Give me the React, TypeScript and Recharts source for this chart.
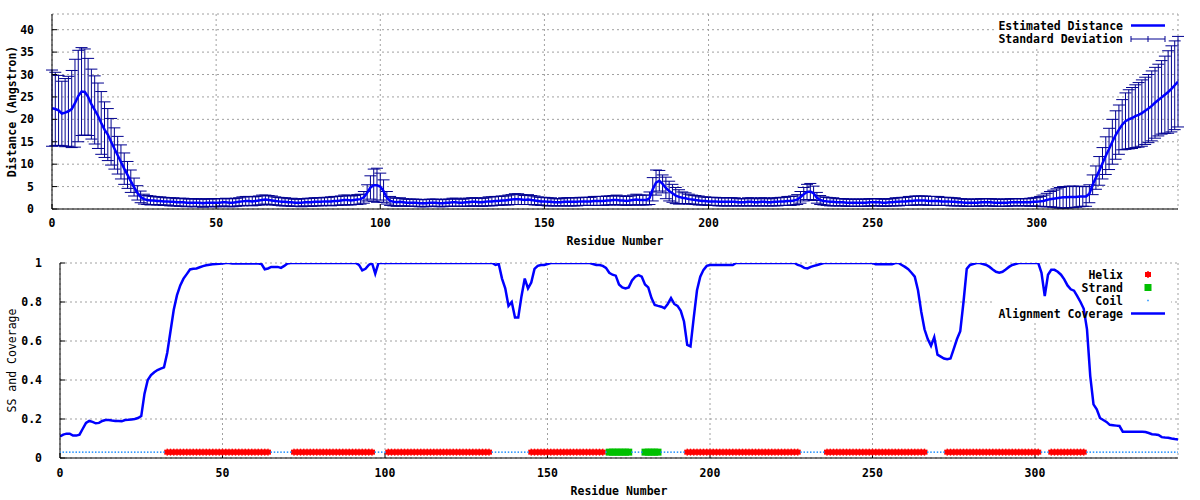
import React from "react";
import {
  ComposedChart,
  Line,
  Scatter,
  XAxis,
  YAxis,
  CartesianGrid,
  ErrorBar,
  Legend,
  Customized,
} from "recharts";

// estimated distance per residue (0..343), Angstrom
const distMean = [
  22.5, 22.3, 22.0, 21.3, 21.5, 21.8, 22.3, 23.6, 25.2, 26.2,
  26.1, 25.0, 23.4, 22.1, 20.8, 19.2, 17.7, 16.6, 15.0, 13.5,
  12.0, 10.5, 9.0, 7.6, 6.2, 4.9, 3.6, 2.7, 2.2, 2.0,
  1.9, 1.9, 1.8, 1.8, 1.7, 1.7, 1.6, 1.6, 1.5, 1.5,
  1.5, 1.4, 1.4, 1.4, 1.4, 1.4, 1.3, 1.4, 1.4, 1.4,
  1.4, 1.4, 1.5, 1.5, 1.4, 1.4, 1.5, 1.6, 1.7, 1.8,
  1.8, 1.7, 1.8, 1.9, 2.0, 2.1, 2.0, 1.9, 1.8, 1.7,
  1.6, 1.6, 1.5, 1.5, 1.4, 1.4, 1.4, 1.5, 1.5, 1.5,
  1.6, 1.6, 1.6, 1.7, 1.7, 1.7, 1.8, 1.8, 1.9, 2.0,
  2.0, 1.9, 2.0, 2.1, 2.2, 2.6, 3.6, 4.8, 5.3, 5.3,
  5.0, 4.0, 2.5, 1.8, 1.6, 1.5, 1.6, 1.5, 1.4, 1.4,
  1.4, 1.4, 1.3, 1.3, 1.3, 1.4, 1.4, 1.4, 1.3, 1.3,
  1.4, 1.4, 1.5, 1.5, 1.4, 1.4, 1.5, 1.5, 1.6, 1.6,
  1.5, 1.5, 1.6, 1.7, 1.7, 1.8, 1.8, 1.9, 1.9, 2.0,
  2.1, 2.2, 2.2, 2.1, 2.0, 2.1, 2.0, 1.9, 1.8, 1.7,
  1.7, 1.6, 1.6, 1.5, 1.5, 1.5, 1.6, 1.6, 1.6, 1.6,
  1.6, 1.7, 1.7, 1.7, 1.7, 1.8, 1.8, 1.8, 1.8, 1.9,
  1.9, 2.0, 2.0, 1.9, 1.9, 1.8, 1.9, 2.0, 2.1, 2.0,
  2.0, 2.0, 2.4, 4.4, 5.9, 6.3, 5.6, 4.7, 4.0, 3.5,
  3.0, 2.7, 2.5, 2.4, 2.2, 2.1, 2.0, 1.9, 1.8, 1.8,
  1.7, 1.7, 1.7, 1.6, 1.6, 1.6, 1.6, 1.6, 1.6, 1.5,
  1.5, 1.5, 1.6, 1.6, 1.5, 1.5, 1.6, 1.6, 1.5, 1.5,
  1.6, 1.6, 1.7, 1.7, 1.8, 1.8, 1.9, 2.1, 2.6, 3.3,
  3.8, 3.9, 3.5, 2.5, 2.0, 1.8, 1.7, 1.6, 1.6, 1.5,
  1.5, 1.5, 1.4, 1.4, 1.4, 1.4, 1.4, 1.4, 1.4, 1.5,
  1.5, 1.5, 1.5, 1.4, 1.4, 1.5, 1.5, 1.6, 1.6, 1.7,
  1.7, 1.8, 1.8, 1.9, 1.9, 1.9, 1.9, 1.8, 1.8, 1.8,
  1.8, 1.7, 1.7, 1.7, 1.6, 1.6, 1.5, 1.5, 1.4, 1.4,
  1.4, 1.4, 1.4, 1.5, 1.5, 1.5, 1.5, 1.4, 1.4, 1.4,
  1.4, 1.4, 1.5, 1.5, 1.5, 1.5, 1.5, 1.5, 1.5, 1.6,
  1.6, 1.7, 1.8, 2.0, 2.2, 2.3, 2.4, 2.5, 2.6, 2.6,
  2.7, 2.7, 2.7, 2.8, 2.8, 2.8, 3.4, 5.4, 7.0, 8.5,
  10.2, 11.9, 13.4, 15.0, 16.5, 17.7, 18.8, 19.6, 20.0, 20.3,
  20.7, 21.0, 21.4, 21.9, 22.4, 23.0, 23.7, 24.3, 24.9, 25.5,
  26.1, 26.8, 27.6, 28.4,
];

// standard deviation per residue (0..343)
const distSd = [
  8.5, 8.2, 7.8, 7.2, 7.6, 7.8, 8.6, 9.8, 10.2, 9.8,
  9.6, 8.6, 7.8, 7.6, 7.3, 7.0, 6.2, 5.8, 5.2, 4.6,
  4.2, 3.8, 3.5, 3.0, 2.5, 2.0, 1.6, 1.3, 1.1, 1.0,
  1.0, 0.9, 0.9, 0.9, 0.9, 0.8, 0.9, 0.9, 0.8, 0.9,
  0.9, 0.9, 0.8, 0.9, 0.9, 0.8, 0.9, 0.9, 0.8, 0.9,
  0.9, 0.9, 0.8, 0.9, 0.9, 0.9, 0.9, 0.9, 1.0, 1.0,
  1.0, 1.0, 1.0, 1.0, 1.1, 1.0, 1.0, 1.0, 0.9, 0.9,
  0.9, 0.9, 0.8, 0.9, 0.8, 0.8, 0.9, 0.8, 0.9, 0.9,
  0.9, 0.9, 0.9, 0.9, 0.9, 1.0, 1.0, 1.0, 1.0, 1.1,
  1.1, 1.0, 1.0, 1.1, 1.1, 1.3, 1.8, 2.6, 3.6, 3.8,
  3.0, 2.5, 1.4, 1.0, 0.9, 0.9, 0.9, 0.8, 0.8, 0.8,
  0.8, 0.8, 0.8, 0.8, 0.8, 0.8, 0.8, 0.8, 0.8, 0.8,
  0.8, 0.8, 0.9, 0.9, 0.8, 0.8, 0.9, 0.9, 0.9, 0.9,
  0.9, 0.9, 0.9, 1.0, 1.0, 1.0, 1.0, 1.0, 1.0, 1.1,
  1.1, 1.2, 1.2, 1.1, 1.0, 1.1, 1.0, 1.0, 0.9, 0.9,
  0.9, 0.9, 0.9, 0.8, 0.8, 0.8, 0.9, 0.9, 0.9, 0.9,
  0.9, 0.9, 0.9, 0.9, 0.9, 1.0, 1.0, 1.0, 1.0, 1.0,
  1.0, 1.0, 1.1, 1.0, 1.0, 1.0, 1.0, 1.1, 1.2, 1.1,
  1.1, 1.1, 1.4, 2.6, 2.8, 2.3, 2.0, 2.4, 2.2, 2.0,
  1.8, 1.6, 1.3, 1.2, 1.1, 1.0, 1.0, 1.0, 0.9, 0.9,
  0.9, 0.9, 0.9, 0.9, 0.9, 0.9, 0.9, 0.9, 0.9, 0.8,
  0.8, 0.8, 0.9, 0.9, 0.8, 0.8, 0.9, 0.9, 0.8, 0.8,
  0.9, 0.9, 0.9, 0.9, 1.0, 1.0, 1.0, 1.1, 1.3, 1.5,
  1.7, 1.8, 1.6, 1.2, 1.0, 0.9, 0.9, 0.9, 0.9, 0.8,
  0.8, 0.8, 0.8, 0.8, 0.8, 0.8, 0.8, 0.8, 0.8, 0.8,
  0.8, 0.8, 0.8, 0.8, 0.8, 0.8, 0.8, 0.9, 0.9, 0.9,
  0.9, 1.0, 1.0, 1.0, 1.0, 1.0, 1.0, 1.0, 1.0, 1.0,
  1.0, 0.9, 0.9, 0.9, 0.9, 0.9, 0.8, 0.8, 0.8, 0.8,
  0.8, 0.8, 0.8, 0.8, 0.8, 0.8, 0.8, 0.8, 0.8, 0.8,
  0.8, 0.8, 0.8, 0.8, 0.8, 0.8, 0.8, 0.8, 0.9, 0.9,
  1.0, 1.1, 1.3, 1.5, 1.7, 1.9, 2.1, 2.3, 2.4, 2.4,
  2.4, 2.4, 2.3, 2.3, 2.2, 2.2, 2.0, 2.2, 2.6, 3.2,
  3.5, 4.2, 4.6, 5.0, 5.4, 5.5, 5.6, 6.3, 6.6, 6.8,
  7.0, 7.2, 7.4, 7.5, 7.6, 7.8, 7.9, 8.0, 8.2, 8.6,
  9.2, 9.6, 9.9, 10.1,
];

// alignment coverage per residue (0..344)
const coverage = [
  0.11, 0.12, 0.125, 0.125, 0.115, 0.115, 0.12, 0.15, 0.18, 0.19,
  0.185, 0.178, 0.18, 0.19, 0.195, 0.195, 0.192, 0.19, 0.19, 0.188,
  0.195, 0.196, 0.198, 0.2, 0.205, 0.215, 0.33, 0.4, 0.425, 0.44,
  0.451, 0.458, 0.465, 0.54, 0.65, 0.76, 0.835, 0.885, 0.92, 0.943,
  0.967, 0.97, 0.972, 0.978, 0.984, 0.988, 0.991, 0.993, 0.995, 0.996,
  0.997, 1, 1, 0.998, 0.997, 0.997, 0.997, 0.997, 0.997, 0.997,
  0.997, 0.997, 0.995, 0.968, 0.972, 0.98, 0.98, 0.98, 0.975, 0.985,
  0.998, 1, 1, 1, 1, 1, 1, 1, 1, 1,
  1, 1, 1, 1, 1, 1, 1, 1, 1, 1,
  1, 1, 0.99, 0.962, 0.97, 0.99, 1, 0.945, 1, 1,
  1, 1, 1, 1, 1, 1, 1, 1, 1, 1,
  1, 1, 1, 1, 1, 1, 1, 1, 1, 1,
  1, 1, 1, 1, 1, 1, 1, 1, 1, 1,
  1, 1, 1, 1, 0.99, 0.995, 0.92, 0.87, 0.78, 0.8,
  0.72, 0.72, 0.83, 0.92, 0.87, 0.9, 0.97, 0.985, 0.99, 0.99,
  0.995, 1, 1, 1, 1, 1, 1, 1, 1, 1,
  1, 1, 1, 1, 0.995, 0.99, 0.99, 0.985, 0.975, 0.95,
  0.94, 0.935, 0.89, 0.875, 0.87, 0.875, 0.91, 0.93, 0.938, 0.93,
  0.89, 0.875, 0.82, 0.785, 0.78, 0.776, 0.768, 0.79, 0.82, 0.79,
  0.78, 0.755, 0.7, 0.58, 0.572, 0.72, 0.86, 0.93, 0.965, 0.985,
  0.99, 0.99, 0.99, 0.99, 0.99, 0.99, 0.99, 0.99, 1, 1,
  1, 1, 1, 1, 1, 1, 1, 1, 1, 1,
  1, 1, 1, 1, 1, 1, 1, 0.99, 0.985, 0.975,
  0.972, 0.98, 0.985, 0.99, 0.995, 1, 1, 1, 1, 1,
  1, 1, 1, 1, 1, 1, 1, 1, 1, 1,
  1, 0.993, 0.993, 0.993, 0.993, 0.993, 0.993, 1, 1, 0.99,
  0.98, 0.968, 0.95, 0.93, 0.86, 0.75, 0.66, 0.61, 0.575, 0.62,
  0.53, 0.52, 0.51, 0.506, 0.51, 0.56, 0.61, 0.65, 0.8, 0.97,
  0.99, 0.995, 1, 1, 0.995, 0.99, 0.98, 0.967, 0.955, 0.95,
  0.955, 0.967, 0.98, 0.99, 0.995, 1, 1, 1, 1, 1,
  1, 1, 0.95, 0.83, 0.94, 0.965, 0.965, 0.955, 0.94, 0.916,
  0.885, 0.865, 0.858, 0.83, 0.8, 0.765, 0.66, 0.42, 0.275, 0.25,
  0.205, 0.195, 0.185, 0.17, 0.168, 0.166, 0.164, 0.135, 0.135, 0.135,
  0.135, 0.135, 0.135, 0.135, 0.133, 0.128, 0.122, 0.12, 0.118, 0.107,
  0.105, 0.104, 0.1, 0.097, 0.095,
];

// secondary structure, residue ranges (inclusive)
const helixSegments = [
  [33, 64], [72, 96], [101, 132], [145, 167],
  [193, 227], [236, 266], [273, 301], [305, 315],
];
const strandSegments = [[169, 175], [180, 184]];
const ssLevel = 0.03;

const xTicks = [0, 50, 100, 150, 200, 250, 300];
const distTicks = [0, 5, 10, 15, 20, 25, 30, 35, 40];
const covTicks = [0, 0.2, 0.4, 0.6, 0.8, 1];

const distData = distMean.map((mean, r) => ({ r, mean, sd: distSd[r] }));
const covData = coverage.map((cov, r) => ({ r, cov }));

const inSegs = (r: number, segs: number[][]) => segs.some(([a, b]) => r >= a && r <= b);
const helixPts = covData.filter((d) => inSegs(d.r, helixSegments)).map((d) => ({ r: d.r, ss: ssLevel }));
const strandPts = covData.filter((d) => inSegs(d.r, strandSegments)).map((d) => ({ r: d.r, ss: ssLevel }));
const coilPts = covData
  .filter((d) => !inSegs(d.r, helixSegments) && !inSegs(d.r, strandSegments))
  .map((d) => ({ r: d.r, ss: ssLevel }));

const FONT = "'DejaVu Sans Mono', 'Liberation Mono', monospace";
const txt = { fill: "#000", fontSize: 11.5, fontFamily: FONT, fontWeight: 700 };
const BLUE = "#0000ff";
const NAVY = "#000090";
const RED = "#ff0000";
const GREEN = "#00c000";
const COIL = "#1e90ff";

const HelixMark = (p: any) => (
  <g>
    <rect x={p.cx - 3} y={p.cy - 2.5} width={6} height={5} fill={RED} />
    <rect x={p.cx - 0.7} y={p.cy - 3.5} width={1.4} height={7} fill={RED} />
  </g>
);
const StrandMark = (p: any) => <rect x={p.cx - 3.5} y={p.cy - 3.5} width={7} height={7} fill={GREEN} />;
const CoilMark = (p: any) => <rect x={p.cx - 0.75} y={p.cy - 0.75} width={1.5} height={1.5} fill={COIL} />;

const TopLegend = () => (
  <svg width={188} height={34} style={{ display: "block" }}>
    <text x={133} y={14.5} textAnchor="end" {...txt}>Estimated Distance</text>
    <line x1={141} x2={175} y1={10.5} y2={10.5} stroke={BLUE} strokeWidth={2.5} />
    <text x={133} y={28} textAnchor="end" {...txt}>Standard Deviation</text>
    <line x1={141} x2={175} y1={24} y2={24} stroke={NAVY} />
    <line x1={141} x2={141} y1={21} y2={27} stroke={NAVY} />
    <line x1={158} x2={158} y1={21} y2={27} stroke={NAVY} />
    <line x1={175} x2={175} y1={21} y2={27} stroke={NAVY} />
  </svg>
);

const BottomLegend = () => (
  <svg width={188} height={60} style={{ display: "block" }}>
    <text x={133} y={14.5} textAnchor="end" {...txt}>Helix</text>
    <HelixMark cx={158} cy={10.5} />
    <text x={133} y={27.5} textAnchor="end" {...txt}>Strand</text>
    <StrandMark cx={158} cy={23.5} />
    <text x={133} y={40.5} textAnchor="end" {...txt}>Coil</text>
    <CoilMark cx={158} cy={36.5} />
    <text x={133} y={53.5} textAnchor="end" {...txt}>Alignment Coverage</text>
    <line x1={141} x2={175} y1={49.5} y2={49.5} stroke={BLUE} strokeWidth={2.5} />
  </svg>
);

const legendPos = { layout: "vertical" as const, align: "center" as const, verticalAlign: "middle" as const };

export default function App() {
  return (
    <div style={{ position: "absolute", left: 0, top: 0, width: 1200, height: 500, background: "#fff" }}>
      <ComposedChart width={1200} height={250} data={distData} margin={{ top: 14, right: 22, bottom: 0, left: 0 }}>
        <CartesianGrid stroke="#a0a0a0" strokeDasharray="2 3" />
        <Customized component={<rect x={995} y={15} width={176} height={31} fill="#fff" />} />
        <XAxis
          dataKey="r"
          type="number"
          domain={[0, 343]}
          ticks={xTicks}
          interval={0}
          allowDataOverflow
          height={41}
          stroke="#000"
          tickSize={-5}
          tickMargin={15}
          tick={txt}
          label={{ value: "Residue Number", position: "insideBottom", offset: 5, ...txt }}
        />
        <XAxis xAxisId="mirror" orientation="top" type="number" domain={[0, 343]} ticks={xTicks} interval={0}
          allowDataOverflow height={0} stroke="#000" tickSize={-5} tick={false} />
        <YAxis
          type="number"
          domain={[0, 43.5]}
          ticks={distTicks}
          interval={0}
          allowDataOverflow
          width={52}
          stroke="#000"
          tickSize={-5}
          tickMargin={23}
          tick={txt}
          label={{ value: "Distance (Angstron)", angle: -90, position: "insideLeft", offset: 12, ...txt, style: { textAnchor: "middle" } }}
        />
        <YAxis yAxisId="mirror" orientation="right" type="number" domain={[0, 43.5]} ticks={distTicks} interval={0}
          allowDataOverflow width={0} stroke="#000" tickSize={-5} tick={false} />
        <Line dataKey="mean" type="linear" stroke={BLUE} strokeWidth={2.5} dot={false} isAnimationActive={false}>
          <ErrorBar dataKey="sd" direction="y" width={6} stroke={NAVY} strokeWidth={1} isAnimationActive={false} />
        </Line>
        <Legend {...legendPos} content={TopLegend} wrapperStyle={{ left: 990, top: 15, width: 188, height: 34 }} />
      </ComposedChart>

      <ComposedChart width={1200} height={250} data={covData} margin={{ top: 13, right: 22, bottom: 0, left: 0 }}>
        <CartesianGrid stroke="#a0a0a0" strokeDasharray="2 3" />
        <Customized component={<rect x={995} y={14} width={176} height={57} fill="#fff" />} />
        <XAxis
          dataKey="r"
          type="number"
          domain={[0, 344]}
          ticks={xTicks}
          interval={0}
          allowDataOverflow
          height={42}
          stroke="#000"
          tickSize={-5}
          tickMargin={16}
          tick={txt}
          label={{ value: "Residue Number", position: "insideBottom", offset: 5, ...txt }}
        />
        <XAxis xAxisId="mirror" orientation="top" type="number" domain={[0, 344]} ticks={xTicks} interval={0}
          allowDataOverflow height={0} stroke="#000" tickSize={-5} tick={false} />
        <YAxis
          type="number"
          domain={[0, 1]}
          ticks={covTicks}
          interval={0}
          allowDataOverflow
          width={60}
          stroke="#000"
          tickSize={-5}
          tickMargin={23}
          tick={txt}
          tickFormatter={(v: number) => String(v)}
          label={{ value: "SS and Coverage", angle: -90, position: "insideLeft", offset: 12, ...txt, fontWeight: 400, style: { textAnchor: "middle" } }}
        />
        <YAxis yAxisId="mirror" orientation="right" type="number" domain={[0, 1]} ticks={covTicks} interval={0}
          allowDataOverflow width={0} stroke="#000" tickSize={-5} tick={false} />
        <Scatter name="Helix" data={helixPts} dataKey="ss" shape={HelixMark} isAnimationActive={false} />
        <Scatter name="Strand" data={strandPts} dataKey="ss" shape={StrandMark} isAnimationActive={false} />
        <Scatter name="Coil" data={coilPts} dataKey="ss" shape={CoilMark} isAnimationActive={false} />
        <Line dataKey="cov" type="linear" stroke={BLUE} strokeWidth={2.5} dot={false} isAnimationActive={false} />
        <Legend {...legendPos} content={BottomLegend} wrapperStyle={{ left: 990, top: 14, width: 188, height: 60 }} />
      </ComposedChart>
    </div>
  );
}
